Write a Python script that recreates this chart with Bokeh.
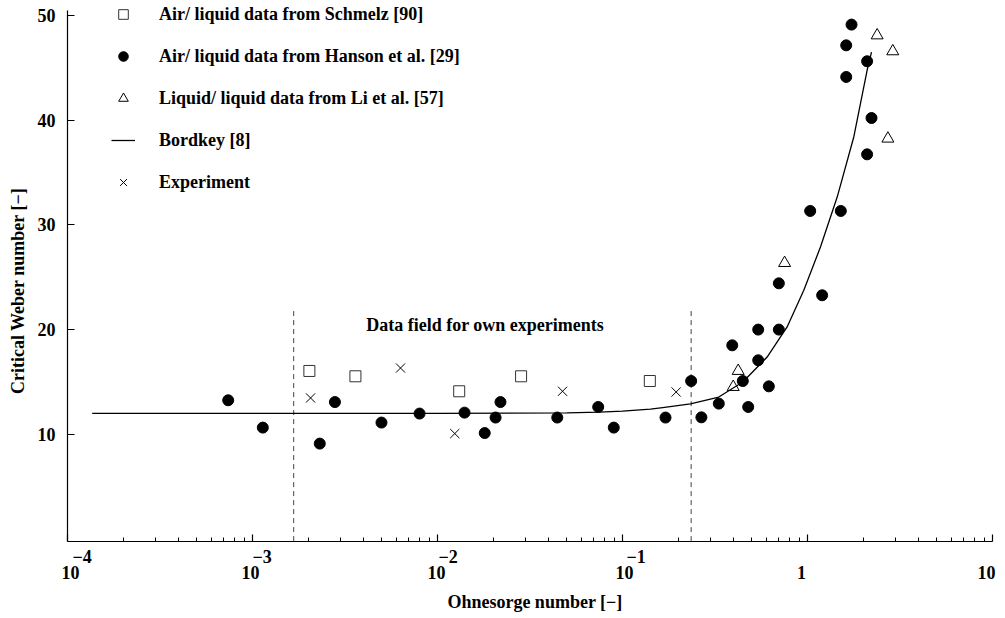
import math
from bokeh.plotting import figure
from bokeh.models import (Range1d, FixedTicker, Label, Legend, LegendItem,
                          CustomJSTickFormatter)
from bokeh.core.properties import value
from bokeh.embed import file_html
from bokeh.resources import INLINE

FONT = "Liberation Serif"

# ---------------- data ----------------
schmelz_oh = [2.03e-3, 3.6e-3, 0.0131, 0.0283, 0.1405]
schmelz_we = [16.05, 15.54, 14.11, 15.54, 15.09]

hanson_oh = [7.39e-4, 1.137e-3, 2.31e-3, 2.79e-3, 4.98e-3, 8.0e-3, 0.0140,
             0.0180, 0.0206, 0.0219, 0.0444, 0.0739, 0.0897, 0.1708, 0.235,
             0.267, 0.3315, 0.392, 0.447, 0.478, 0.5415, 0.5415, 0.618, 0.700,
             0.700, 1.034, 1.20, 1.514, 1.619, 1.619, 1.730, 2.10, 2.10, 2.218]
hanson_we = [13.25, 10.64, 9.11, 13.08, 11.12, 11.98, 12.07,
             10.12, 11.6, 13.08, 11.6, 12.61, 10.64, 11.6, 15.09,
             11.62, 12.93, 18.5, 15.09, 12.61, 17.07, 20.0, 14.58, 20.0,
             24.42, 31.33, 23.28, 31.33, 44.13, 47.15, 49.13, 36.74, 45.63, 40.21]

li_oh = [0.3967, 0.422, 0.752, 2.38, 2.72, 2.89]
li_we = [14.52, 16.05, 26.36, 48.1, 38.24, 46.58]

bordkey_oh = [1.36e-4, 1e-3, 1e-2, 0.05, 0.075, 0.1, 0.1416, 0.165, 0.233,
              0.3315, 0.447, 0.605, 0.776, 0.955, 1.175, 1.447, 1.779, 2.10, 2.218]
bordkey_we = [12.0, 12.0, 12.0, 12.05, 12.12, 12.22, 12.4, 12.55, 12.9,
              13.56, 15.0, 17.38, 20.25, 23.75, 27.89, 32.66, 38.4, 44.77, 46.5]

exp_oh = [2.06e-3, 6.31e-3, 0.0124, 0.0474, 0.195]
exp_we = [13.47, 16.33, 10.07, 14.11, 14.04]

field_bounds = [1.67e-3, 0.235]
field_top = 22.0
field_text = "Data field for own experiments"
field_text_pos = (0.0181, 20.4)

x_ticks = [1e-4, 1e-3, 1e-2, 1e-1, 1, 10]
x_tick_base = ["10", "10", "10", "10", "1", "10"]
x_tick_exp = ["\u22124", "\u22123", "\u22122", "\u22121", "", ""]
y_ticks = [10, 20, 30, 40, 50]
y_tick_labels = ["10", "20", "30", "40", "50"]

x_title = "Ohnesorge number [\u2212]"
y_title = "Critical Weber number [\u2212]"
legend_labels = ["Air/ liquid data from Schmelz [90]",
                 "Air/ liquid data from Hanson et al. [29]",
                 "Liquid/ liquid data from Li et al. [57]",
                 "Bordkey [8]",
                 "Experiment"]

# ---------------- layout constants (pixels) ----------------
X_MIN, X_MAX = 1e-4, 10            # extent of the x axis
Y_AXIS_MIN, Y_AXIS_MAX = -0.2, 50.5  # extent of the y axis
W, H = 1005, 618
BORDER = 4                         # tiny panels; the frame fills the page
AXIS_LEFT_PX, AXIS_RIGHT_PX = 67, 992
PX_PER_DECADE = (AXIS_RIGHT_PX - AXIS_LEFT_PX) / math.log10(X_MAX / X_MIN)
PX_PER_UNIT = 10.47
Y50_PX = 15
FRAME_L, FRAME_R, FRAME_T, FRAME_B = BORDER, W, 0, H - BORDER
X_START = X_MIN * 10 ** (-(AXIS_LEFT_PX - FRAME_L) / PX_PER_DECADE)
X_END = X_MAX * 10 ** ((FRAME_R - AXIS_RIGHT_PX) / PX_PER_DECADE)
Y_END = 50 + (Y50_PX - FRAME_T) / PX_PER_UNIT
Y_START = Y_END - (FRAME_B - FRAME_T) / PX_PER_UNIT
FS = "18px"

# ---------------- figure ----------------
p = figure(width=W, height=H, x_axis_type="log",
           x_range=Range1d(X_START, X_END), y_range=Range1d(Y_START, Y_END),
           output_backend="svg", toolbar_location=None,
           min_border_left=BORDER, min_border_right=0, min_border_top=0,
           min_border_bottom=BORDER)
p.outline_line_color = None
p.xgrid.visible = False
p.ygrid.visible = False
p.background_fill_color = "white"

# dashed bounds of the own-experiment field
p.segment(x0=field_bounds, y0=[Y_AXIS_MIN] * 2, x1=field_bounds, y1=[field_top] * 2,
          line_color="#444444", line_width=1, line_dash="5 4")

r_line = p.line(bordkey_oh, bordkey_we, line_color="black", line_width=1.3)
r_sq = p.scatter(schmelz_oh, schmelz_we, marker="square", size=11,
                 fill_color=None, line_color="#333333", line_width=1)
r_ci = p.scatter(hanson_oh, hanson_we, marker="circle", size=11,
                 fill_color="black", line_color="black")
r_tr = p.scatter(li_oh, li_we, marker="triangle", size=12,
                 fill_color=None, line_color="black", line_width=1)
r_x = p.scatter(exp_oh, exp_we, marker="x", size=13,
                line_color="black", line_width=1)

p.text(x=[field_text_pos[0]], y=[field_text_pos[1]], text=[field_text],
       text_font=value(FONT), text_font_style="bold", text_font_size=FS,
       text_align="center", text_baseline="middle", text_color="black")

# ---------------- axes (drawn at the data extents) ----------------
minor = [m * 10.0 ** e for e in range(-4, 1) for m in range(2, 10)]
xa, ya = p.xaxis[0], p.yaxis[0]
xa.ticker = FixedTicker(ticks=x_ticks, minor_ticks=minor)
ya.ticker = FixedTicker(ticks=y_ticks)
xa.fixed_location = Y_AXIS_MIN
ya.fixed_location = X_MIN
xa.bounds = (X_MIN, X_MAX)
ya.bounds = (Y_AXIS_MIN, Y_AXIS_MAX)

for ax in (xa, ya):
    ax.formatter = CustomJSTickFormatter(code="return ''")
    ax.major_label_text_font_size = "0px"
    ax.major_label_standoff = 0
    ax.axis_line_color = "black"
    ax.axis_line_width = 1.2
    ax.major_tick_line_color = "black"
    ax.major_tick_line_width = 1.2
    ax.major_tick_in = 7
    ax.major_tick_out = 0
    ax.minor_tick_in = 4
    ax.minor_tick_out = 0
    ax.minor_tick_line_color = "black"
ya.minor_tick_line_color = None


def add_text(x, y, text, dx, dy, align, angle=0.0):
    p.add_layout(Label(x=x, y=y, text=text, x_offset=dx, y_offset=dy,
                       angle=angle, text_align=align, text_baseline="middle",
                       text_font=FONT, text_font_style="bold",
                       text_font_size=FS, text_color="black"))


# x tick labels as 10^n (base and raised exponent)
base_dx = [-6, -11, -10, -7]
for i, (v, b, e) in enumerate(zip(x_ticks, x_tick_base, x_tick_exp)):
    if e:
        add_text(v, Y_AXIS_MIN, b, base_dx[i], -31, "left")
        add_text(v, Y_AXIS_MIN, e, base_dx[i] + 11, -15, "left")
    else:
        add_text(v, Y_AXIS_MIN, b, -6, -31, "center")

# y tick labels
for v, t in zip(y_ticks, y_tick_labels):
    add_text(X_MIN, v, t, -12, 0, "right")

# axis titles
add_text((X_MIN * X_MAX) ** 0.5, Y_AXIS_MIN, x_title, 5, -61, "center")
add_text(X_MIN, (Y_AXIS_MIN + Y_AXIS_MAX) / 2, y_title, -49.5, -15, "center",
         angle=math.pi / 2)

# ---------------- legend ----------------
GLYPH_W, GLYPH_H, ROW_GAP = 24, 26, 16
legend = Legend(items=[LegendItem(label=legend_labels[0], renderers=[r_sq]),
                       LegendItem(label=legend_labels[1], renderers=[r_ci]),
                       LegendItem(label=legend_labels[2], renderers=[r_tr]),
                       LegendItem(label=legend_labels[3], renderers=[r_line]),
                       LegendItem(label=legend_labels[4], renderers=[r_x])],
                location=(123 - GLYPH_W // 2 - FRAME_L,
                          FRAME_B - (1 + 5 * GLYPH_H + 4 * ROW_GAP)))
legend.padding = 0
legend.margin = 0
legend.spacing = ROW_GAP
legend.glyph_width = GLYPH_W
legend.glyph_height = GLYPH_H
legend.label_height = GLYPH_H
legend.label_standoff = 159 - (123 + GLYPH_W // 2)
legend.label_text_font = FONT
legend.label_text_font_style = "bold"
legend.label_text_font_size = FS
legend.label_text_color = "black"
legend.background_fill_alpha = 0
legend.border_line_alpha = 0
p.add_layout(legend)

open("out.html", "w").write(file_html(p, INLINE))
